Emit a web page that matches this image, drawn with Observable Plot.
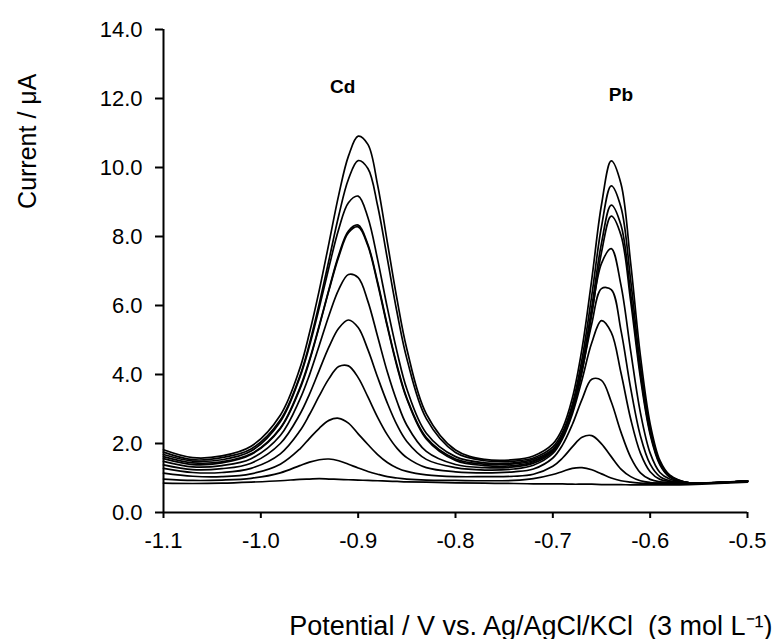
<!DOCTYPE html>
<html><head><meta charset="utf-8">
<script src="https://cdn.jsdelivr.net/npm/d3@7"></script>
<script src="https://cdn.jsdelivr.net/npm/@observablehq/plot@0.6"></script>
<style>html,body{margin:0;padding:0;background:#fff;} svg{display:block}</style>
</head><body><div id="chart"></div>
<script>
const potential = [-1.10, -1.07, -1.04, -1.01, -0.98, -0.96, -0.95, -0.94, -0.93, -0.92, -0.91, -0.90, -0.89, -0.88, -0.87, -0.86, -0.85, -0.83, -0.80, -0.77, -0.74, -0.72, -0.70, -0.69, -0.68, -0.67, -0.66, -0.65, -0.64, -0.63, -0.62, -0.61, -0.60, -0.59, -0.58, -0.56, -0.53, -0.50];
const c01 = [1.82, 1.59, 1.64, 1.92, 2.82, 4.17, 5.21, 6.44, 7.81, 9.20, 10.33, 10.91, 10.67, 9.49, 7.83, 6.17, 4.74, 2.86, 1.81, 1.54, 1.53, 1.64, 1.99, 2.44, 3.31, 4.75, 6.76, 8.92, 10.19, 9.53, 7.22, 4.54, 2.57, 1.51, 1.09, 0.86, 0.87, 0.91];
const c02 = [1.75, 1.53, 1.59, 1.84, 2.68, 3.95, 4.90, 6.05, 7.32, 8.60, 9.66, 10.20, 9.97, 8.89, 7.35, 5.79, 4.46, 2.72, 1.74, 1.50, 1.49, 1.58, 1.90, 2.33, 3.13, 4.45, 6.29, 8.29, 9.47, 8.85, 6.72, 4.25, 2.44, 1.45, 1.07, 0.86, 0.87, 0.91];
const c03 = [1.68, 1.49, 1.53, 1.78, 2.63, 3.91, 4.83, 5.93, 7.11, 8.21, 8.98, 9.17, 8.55, 7.33, 5.93, 4.65, 3.58, 2.30, 1.62, 1.44, 1.44, 1.54, 1.84, 2.24, 2.99, 4.22, 5.95, 7.81, 8.91, 8.33, 6.34, 4.03, 2.32, 1.41, 1.04, 0.86, 0.87, 0.91];
const c04 = [1.62, 1.44, 1.47, 1.70, 2.45, 3.61, 4.43, 5.42, 6.47, 7.46, 8.16, 8.33, 7.77, 6.68, 5.42, 4.26, 3.32, 2.17, 1.55, 1.40, 1.41, 1.50, 1.79, 2.19, 2.91, 4.08, 5.75, 7.54, 8.59, 8.04, 6.12, 3.90, 2.26, 1.38, 1.03, 0.86, 0.87, 0.91];
const c05 = [1.56, 1.39, 1.44, 1.68, 2.43, 3.57, 4.39, 5.39, 6.44, 7.41, 8.11, 8.28, 7.73, 6.63, 5.38, 4.22, 3.29, 2.13, 1.51, 1.36, 1.36, 1.47, 1.80, 2.23, 3.02, 4.23, 5.80, 7.22, 7.65, 6.59, 4.68, 2.89, 1.72, 1.16, 0.97, 0.86, 0.87, 0.91];
const c06 = [1.48, 1.32, 1.36, 1.56, 2.23, 3.27, 3.99, 4.84, 5.71, 6.46, 6.90, 6.81, 6.12, 5.10, 4.07, 3.21, 2.53, 1.77, 1.39, 1.30, 1.32, 1.43, 1.76, 2.21, 2.98, 4.12, 5.47, 6.49, 6.46, 5.28, 3.60, 2.22, 1.40, 1.04, 0.92, 0.86, 0.87, 0.91];
const c07 = [1.38, 1.24, 1.27, 1.43, 2.00, 2.84, 3.43, 4.12, 4.80, 5.34, 5.58, 5.36, 4.72, 3.92, 3.17, 2.53, 2.06, 1.54, 1.30, 1.23, 1.26, 1.37, 1.71, 2.14, 2.85, 3.85, 4.92, 5.56, 5.22, 4.05, 2.71, 1.72, 1.18, 0.96, 0.90, 0.86, 0.87, 0.91];
const c08 = [1.28, 1.16, 1.16, 1.28, 1.70, 2.36, 2.84, 3.38, 3.88, 4.23, 4.25, 3.91, 3.35, 2.76, 2.25, 1.86, 1.59, 1.30, 1.18, 1.15, 1.18, 1.26, 1.58, 1.96, 2.55, 3.28, 3.86, 3.83, 3.21, 2.33, 1.60, 1.15, 0.96, 0.89, 0.87, 0.86, 0.87, 0.91];
const c09 = [1.14, 1.05, 1.04, 1.12, 1.40, 1.84, 2.15, 2.44, 2.67, 2.73, 2.59, 2.28, 1.97, 1.68, 1.45, 1.29, 1.19, 1.09, 1.04, 1.04, 1.05, 1.11, 1.34, 1.58, 1.90, 2.18, 2.23, 1.99, 1.62, 1.26, 1.04, 0.92, 0.87, 0.85, 0.85, 0.85, 0.87, 0.91];
const c10 = [0.97, 0.93, 0.94, 0.99, 1.15, 1.36, 1.46, 1.53, 1.55, 1.50, 1.40, 1.29, 1.19, 1.11, 1.04, 1.00, 0.97, 0.94, 0.93, 0.92, 0.93, 0.98, 1.10, 1.19, 1.28, 1.30, 1.24, 1.12, 1.00, 0.92, 0.88, 0.85, 0.85, 0.85, 0.85, 0.85, 0.87, 0.91];
const c11 = [0.85, 0.84, 0.85, 0.88, 0.92, 0.96, 0.97, 0.98, 0.97, 0.96, 0.95, 0.94, 0.93, 0.92, 0.91, 0.90, 0.89, 0.88, 0.86, 0.85, 0.84, 0.83, 0.83, 0.83, 0.82, 0.82, 0.82, 0.81, 0.81, 0.81, 0.80, 0.80, 0.80, 0.80, 0.80, 0.81, 0.84, 0.88];

const xTicks = [-1.1, -1.0, -0.9, -0.8, -0.7, -0.6, -0.5];
const yTicks = [0, 2, 4, 6, 8, 10, 12, 14];
const peakNames = ["Cd", "Pb"];
const peakX = [-0.916, -0.630];
const peakY = [12.35, 12.09];
const xTitle = "Potential / V vs. Ag/AgCl/KCl  (3 mol L\u207B\u00B9)";
const yTitle = "Current / \u03BCA";

const curves = [c01, c02, c03, c04, c05, c06, c07, c08, c09, c10, c11];
const rows = curves.flatMap((c, k) => c.map((v, j) => ({potential: potential[j], current: v, curve: k})));
const font = "'Liberation Sans', Arial, sans-serif";

const chart = Plot.plot({
  width: 783, height: 639,
  marginLeft: 163, marginRight: 36, marginTop: 29, marginBottom: 127,
  style: {fontFamily: font, fontSize: "22px", color: "black", background: "white", overflow: "visible"},
  x: {domain: [-1.1, -0.5]},
  y: {domain: [0, 14]},
  marks: [
    Plot.axisX({ticks: xTicks, tickFormat: d => d.toFixed(1), tickSize: 6, tickPadding: 14, strokeWidth: 2, label: null, fontSize: 22}),
    Plot.axisY({ticks: yTicks, tickFormat: d => d.toFixed(1), tickSize: 8, tickPadding: 13, strokeWidth: 2, label: null, fontSize: 22}),
    Plot.ruleY([0], {strokeWidth: 2}),
    Plot.ruleX([-1.1], {strokeWidth: 2}),
    Plot.line(rows, {x: "potential", y: "current", z: "curve", curve: "catmull-rom", stroke: "black", strokeWidth: 1.7}),
    Plot.text(peakNames, {x: (d, i) => peakX[i], y: (d, i) => peakY[i], text: d => d, fontWeight: "bold", fontSize: 19}),
    Plot.text([yTitle], {x: () => -1.1, y: () => 10.76, dx: -136, rotate: -90, fontSize: 25}),
    Plot.text([xTitle], {x: () => -0.5, y: () => 0, dx: 25, dy: 122, textAnchor: "end", lineAnchor: "bottom", fontSize: 27})
  ]
});
document.getElementById("chart").appendChild(chart);
</script>
</body></html>
